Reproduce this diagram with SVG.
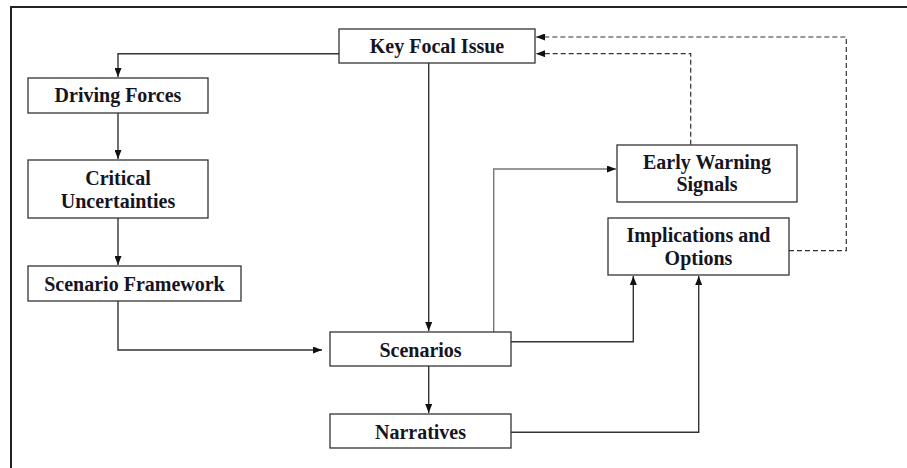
<svg xmlns="http://www.w3.org/2000/svg" width="907" height="468" viewBox="0 0 907 468">
<defs>
<marker id="ah" markerWidth="9" markerHeight="7" refX="9" refY="3.5" orient="auto" markerUnits="userSpaceOnUse">
<path d="M0,0 L9,3.5 L0,7 Z" fill="#111"/>
</marker>
<style>
.box{fill:#fff;stroke:#333;stroke-width:1.3}
.t{font-family:"Liberation Serif","Times New Roman",serif;font-weight:bold;font-size:20px;fill:#15151f;text-anchor:middle}
.c{fill:none;stroke:#333;stroke-width:1.4}
.d{fill:none;stroke:#333;stroke-width:1.2;stroke-dasharray:5,3}
</style>
</defs>
<rect x="0" y="0" width="907" height="468" fill="#fff"/>
<path d="M11,468 V7 H907" fill="none" stroke="#222" stroke-width="2"/>
<g id="connectors">
<path class="c" d="M339,53.7 H118 V77" marker-end="url(#ah)"/>
<path class="c" d="M118,113 V159" marker-end="url(#ah)"/>
<path class="c" d="M118,218 V265" marker-end="url(#ah)"/>
<path class="c" d="M118,301 V350 H322" marker-end="url(#ah)"/>
<path class="c" d="M428.7,63 V331" marker-end="url(#ah)"/>
<path class="c" d="M428.7,366 V413" marker-end="url(#ah)"/>
<path class="c" style="stroke:#777" d="M493.7,332 V169 H616" marker-end="url(#ah)"/>
<path class="c" d="M511,341.7 H633.3 V276" marker-end="url(#ah)"/>
<path class="c" d="M511,432.3 H698.7 V276" marker-end="url(#ah)"/>
<path class="d" d="M690.7,144.7 V53.7 H536" marker-end="url(#ah)"/>
<path class="d" d="M789,250.7 H846.3 V37 H536" marker-end="url(#ah)"/>
</g>
<g id="key-focal-issue">
<rect class="box" x="339" y="29" width="196" height="34"/>
<text class="t" x="437" y="52.5">Key Focal Issue</text>
</g>
<g id="driving-forces">
<rect class="box" x="28" y="78" width="180" height="35"/>
<text class="t" x="118" y="102">Driving Forces</text>
</g>
<g id="critical-uncertainties">
<rect class="box" x="28" y="160" width="180" height="58"/>
<text class="t" x="118" y="185">Critical</text>
<text class="t" x="118" y="207.5">Uncertainties</text>
</g>
<g id="scenario-framework">
<rect class="box" x="28" y="266" width="213" height="35"/>
<text class="t" x="134.5" y="290.5">Scenario Framework</text>
</g>
<g id="scenarios">
<rect class="box" x="330" y="332" width="181" height="34"/>
<text class="t" x="420.5" y="356.5">Scenarios</text>
</g>
<g id="narratives">
<rect class="box" x="330" y="414" width="181" height="34"/>
<text class="t" x="420.5" y="438.5">Narratives</text>
</g>
<g id="early-warning-signals">
<rect class="box" x="617" y="145" width="180" height="57"/>
<text class="t" x="707" y="168.5">Early Warning</text>
<text class="t" x="707" y="191">Signals</text>
</g>
<g id="implications-and-options">
<rect class="box" x="608" y="218" width="181" height="57"/>
<text class="t" x="698.5" y="242">Implications and</text>
<text class="t" x="698.5" y="265">Options</text>
</g>
</svg>
